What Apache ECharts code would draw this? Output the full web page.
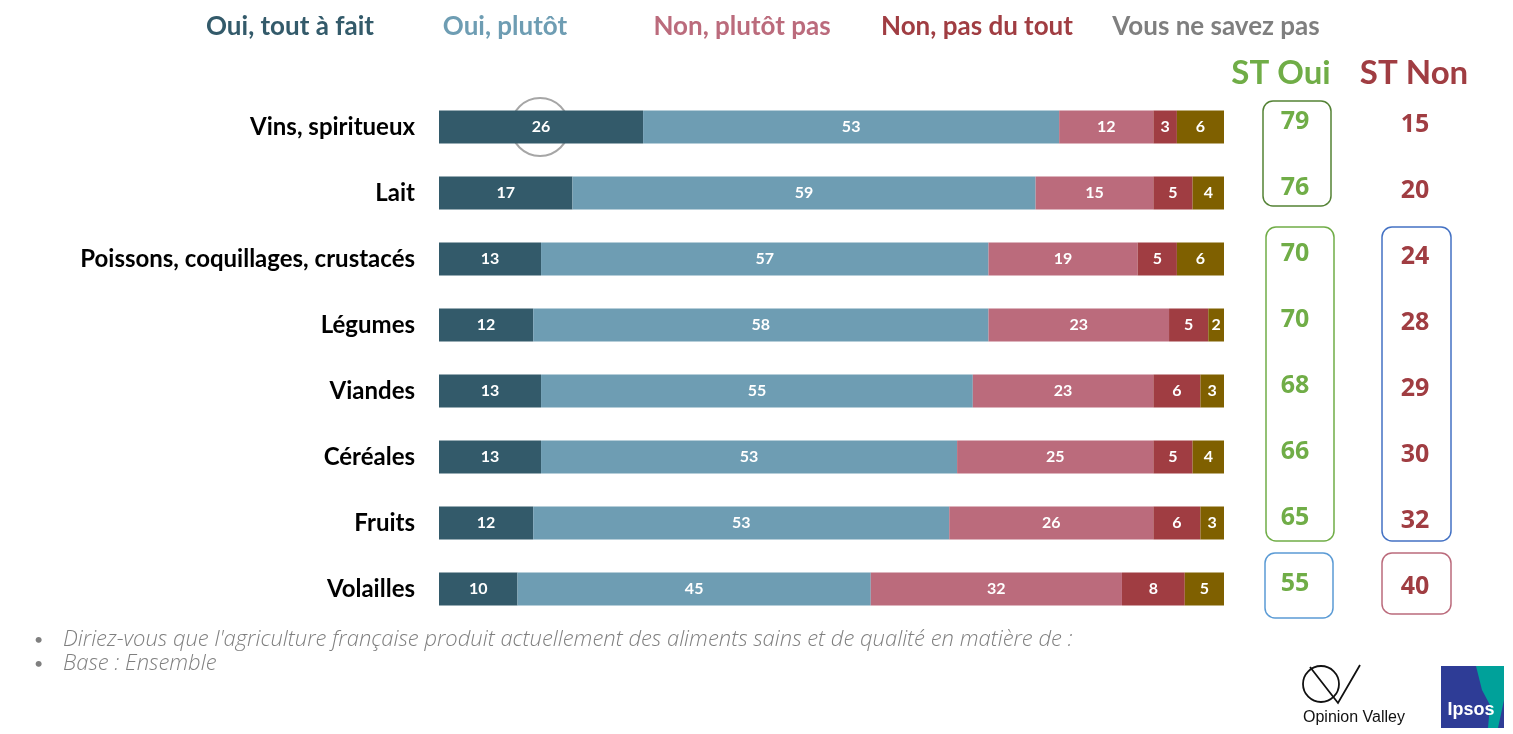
<!DOCTYPE html>
<html>
<head>
<meta charset="utf-8">
<script src="https://cdn.jsdelivr.net/npm/echarts@6/dist/echarts.min.js"></script>
<style>
html,body{margin:0;padding:0;background:#fff;}
#c{width:1513px;height:734px;}
</style>
</head>
<body>
<div id="c"></div>
<script>
const categories = ['Vins, spiritueux','Lait','Poissons, coquillages, crustacés','Légumes','Viandes','Céréales','Fruits','Volailles'];
const seriesNames = ['Oui, tout à fait','Oui, plutôt','Non, plutôt pas','Non, pas du tout','Vous ne savez pas'];
const toutAFait = [26,17,13,12,13,13,12,10];
const plutot = [53,59,57,58,55,53,53,45];
const plutotPas = [12,15,19,23,23,25,26,32];
const pasDuTout = [3,5,5,5,6,5,6,8];
const nsp = [6,4,6,2,3,4,3,5];
const stOui = [79,76,70,70,68,66,65,55];
const stNon = [15,20,24,28,29,30,32,40];
const stLabels = ['ST Oui','ST Non'];

const barColors = ['#335A6A','#6E9DB3','#BB6B7C','#A03D42','#7F6000'];
const legendColors = ['#335A6A','#6E9DB3','#BB6B7C','#A03D42','#7F7F7F'];
const legendX = [290,505,742,977,1216];
const values = [toutAFait, plutot, plutotPas, pasDuTout, nsp];
const stColors = ['#70AD47','#A03D42'];

const chart = echarts.init(document.getElementById('c'));

const barSeries = values.map((v,i)=>({
  name: seriesNames[i],
  type:'bar', stack:'total', xAxisIndex:0, yAxisIndex:0,
  barWidth:33,
  data:v,
  itemStyle:{color:barColors[i]},
  label:{show:true, position:'inside', color:'#fff', fontFamily:'Lato', fontWeight:'bold', fontSize:16},
  emphasis:{disabled:true}
}));

const legendGraphics = seriesNames.map((n,i)=>({
  type:'text', x:legendX[i], y:27,
  style:{text:n, fill:legendColors[i], font:'bold 26px Lato', align:'center', verticalAlign:'middle'}
}));

function stSeries(arr, col, dy){
  return {
    type:'custom', xAxisIndex:1, yAxisIndex:1,
    data: arr.map((v,i)=>[col,i,v]),
    renderItem:(params, api)=>{
      const pt = api.coord([api.value(0), api.value(1)]);
      return {type:'text', x:pt[0], y:pt[1]+dy,
        style:{text:String(api.value(2)), fill:stColors[col], font:'bold 25px "Open Sans"', align:'center', verticalAlign:'middle'}};
    },
    silent:true
  };
}

const option = {
  animation:false,
  grid:[
    {left:439, width:785, top:94, height:528},
    {left:1235, width:240, top:94, height:528}
  ],
  xAxis:[
    {type:'value', gridIndex:0, min:0, max:100, show:false},
    {type:'category', gridIndex:1, data:stLabels, boundaryGap:true, show:false}
  ],
  yAxis:[
    {type:'category', gridIndex:0, data:categories, inverse:true,
     axisLine:{show:false}, axisTick:{show:false},
     axisLabel:{margin:24, color:'#000', fontFamily:'Lato', fontWeight:'bold', fontSize:24}},
    {type:'category', gridIndex:1, data:categories, inverse:true, show:false}
  ],
  series: barSeries.concat([stSeries(stOui,0,-5), stSeries(stNon,1,-2)]),
  graphic: legendGraphics.concat([
    {type:'text', x:1281, y:73, style:{text:stLabels[0], fill:stColors[0], font:'bold 33px Lato', align:'center', verticalAlign:'middle'}},
    {type:'text', x:1414, y:73, style:{text:stLabels[1], fill:stColors[1], font:'bold 33px Lato', align:'center', verticalAlign:'middle'}},
    {type:'rect', shape:{x:1263,y:101,width:68,height:105,r:10}, style:{fill:'none', stroke:'#548235', lineWidth:1.5}},
    {type:'rect', shape:{x:1266,y:227,width:68,height:314,r:10}, style:{fill:'none', stroke:'#70AD47', lineWidth:1.5}},
    {type:'rect', shape:{x:1382,y:227,width:69,height:314,r:10}, style:{fill:'none', stroke:'#4472C4', lineWidth:1.5}},
    {type:'rect', shape:{x:1265,y:553,width:68,height:65,r:10}, style:{fill:'none', stroke:'#5B9BD5', lineWidth:1.5}},
    {type:'rect', shape:{x:1382,y:553,width:69,height:61,r:10}, style:{fill:'none', stroke:'#BB6B7C', lineWidth:1.5}},
    {type:'text', x:34, y:640, style:{text:'•', fill:'#7F7F7F', font:'16px Lato', verticalAlign:'middle'}},
    {type:'text', x:34, y:664, style:{text:'•', fill:'#7F7F7F', font:'16px Lato', verticalAlign:'middle'}},
    {type:'text', x:63, y:640, style:{text:"Diriez-vous que l'agriculture française produit actuellement des aliments sains et de qualité en matière de :", fill:'#7F7F7F', font:'italic 300 22px "Open Sans"', verticalAlign:'middle'}},
    {type:'text', x:63, y:664, style:{text:'Base : Ensemble', fill:'#7F7F7F', font:'italic 300 22px "Open Sans"', verticalAlign:'middle'}},
    {type:'circle', shape:{cx:1321, cy:684, r:18}, style:{fill:'none', stroke:'#111', lineWidth:1.8}},
    {type:'polyline', shape:{points:[[1310,667],[1338,703],[1360,665]]}, style:{fill:'none', stroke:'#111', lineWidth:1.8}},
    {type:'text', x:1354, y:718, style:{text:'Opinion Valley', fill:'#111', font:'16px "Liberation Sans"', align:'center', verticalAlign:'middle'}},
    {type:'rect', shape:{x:1441,y:666,width:63,height:62}, style:{fill:'#2E3C96'}},
    {type:'polygon', shape:{points:[[1476,666],[1504,666],[1504,700],[1498,728],[1488,728],[1490,705],[1482,690]]}, style:{fill:'#00A19A'}},
    {type:'text', x:1471, y:710, style:{text:'Ipsos', fill:'#fff', font:'bold 18px "Liberation Sans"', align:'center', verticalAlign:'middle'}}
  ])
};
chart.setOption(option);

const p = chart.convertToPixel({xAxisIndex:0, yAxisIndex:0}, [toutAFait[0]/2, 0]);
chart.setOption({graphic: option.graphic.concat([
  {type:'circle', shape:{cx:p[0]-1, cy:p[1], r:29}, style:{fill:'none', stroke:'#A6A6A6', lineWidth:2}}
])});
</script>
</body>
</html>
